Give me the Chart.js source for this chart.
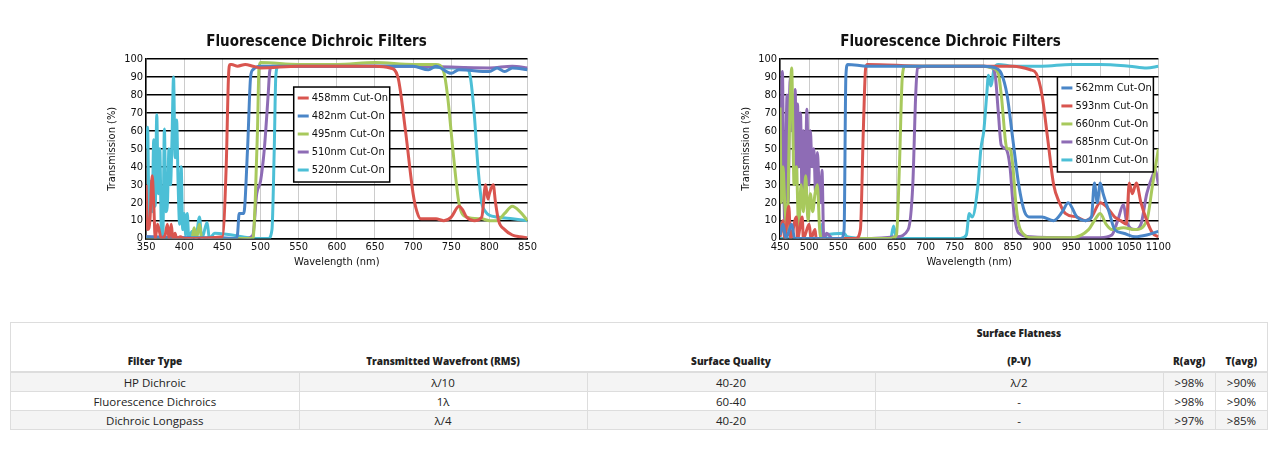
<!DOCTYPE html>
<html>
<head>
<meta charset="utf-8">
<script src="https://cdn.jsdelivr.net/npm/chart.js@4"></script>
<style>
body { margin:0; background:#fff; width:1281px; height:460px; position:relative; font-family:"Open Sans", sans-serif; }
.graf { position:absolute; top:31px; width:435px; height:238px; }
#graficoIzq { left:104px; }
#graficoDer { left:738px; }
table { position:absolute; left:10px; top:322px; width:1258px; border-collapse:collapse; font-size:11.5px; color:#222; border:1px solid #ddd; }
th { font-weight:800; font-size:10px; vertical-align:bottom; height:40px; padding:3px 4px; border-bottom:2px solid #ddd; }
td { text-align:center; height:18px; padding:0 4px; border:1px solid #ddd; }
tr.gris td { background:#f4f4f4; }
</style>
</head>
<body>
<div class="graf" id="graficoIzq"><canvas id="c1"></canvas></div>
<div class="graf" id="graficoDer"><canvas id="c2"></canvas></div>
<table>
<tr><th style="width:280px">Filter Type</th><th style="width:280px">Transmitted Wavefront (RMS)</th><th style="width:280px">Surface Quality</th><th style="width:280px">Surface Flatness<br><br>(P-V)</th><th>R(avg)</th><th>T(avg)</th></tr>
<tr class="gris"><td>HP Dichroic</td><td>λ/10</td><td>40-20</td><td>λ/2</td><td>&gt;98%</td><td>&gt;90%</td></tr>
<tr><td>Fluorescence Dichroics</td><td>1λ</td><td>60-40</td><td>-</td><td>&gt;98%</td><td>&gt;90%</td></tr>
<tr class="gris"><td>Dichroic Longpass</td><td>λ/4</td><td>40-20</td><td>-</td><td>&gt;97%</td><td>&gt;85%</td></tr>
</table>
<script>
const ROJO = '#d9554f', AZUL = '#4a86c8', VERDE = '#a8c95c', MORADO = '#8e6cb5', CIAN = '#4cbfd6';
const FUENTE = '"DejaVu Sans Condensed", "Liberation Sans Narrow", "DejaVu Sans", sans-serif';

// Grafico izquierdo
const x458 = [350,352,355,358,360,362,365,370,375,378,380,383,385,388,390,395,400,450,455,458,460,462,470,480,490,500,550,600,650,670,680,690,700,705,710,720,730,740,750,760,765,770,780,790,795,798,800,805,808,812,820,830,840,850];
const y458 = [30,5,10,35,20,0,8,0,2,8,0,8,0,3,0,1,0,1,40,90,97,97,96,97,96,95,96,96,96,95,90,60,25,15,11,11,11,10,12,18,16,12,10,12,30,22,25,30,20,10,5,2,1,0.5];
const x482 = [350,400,450,468,470,472,478,483,487,490,500,600,700,720,730,750,760,800,810,820,830,850];
const y482 = [1,0.5,0.5,0,3,14,14,50,90,94,96,96,96,94,96,92,94,93,95,93,95,94];
const x495 = [350,410,413,416,420,423,490,493,496,498,500,550,600,650,700,730,740,745,752,760,770,790,800,810,820,830,840,850];
const y495 = [0.5,0,6,0,8,0,0,20,60,95,98,97,97,98,97,97,93,80,50,20,12,11,10,10,14,18,15,10];
const x510 = [350,400,480,490,495,500,505,510,512,515,600,700,800,830,850];
const y510 = [1,0.5,0,2,25,32,50,80,93,96,96,96,95,96,95];
const x520 = [350,352,354,356,358,360,362,364,366,368,370,372,374,376,378,380,382,384,386,388,390,392,394,396,398,400,402,404,406,410,415,420,423,430,433,440,500,510,515,518,520,523,550,600,650,700,750,770,775,780,785,790,795,800,810,830,850];
const y520 = [50,62,10,32,15,55,18,69,25,50,5,2,61,15,20,50,30,56,90,45,66,30,8,40,5,14,2,14,0,4,0,12,0,9,0,3,0,0,5,50,90,96,96,96,96,96,95,95,90,70,40,20,15,13,12,11,10];

// Grafico derecho
const x562 = [450,455,460,470,475,555,560,563,566,600,700,800,820,830,840,850,860,870,880,900,920,935,945,960,975,985,990,995,1000,1005,1015,1025,1040,1060,1080,1100];
const y562 = [2,8,0,8,0,0,5,90,97,96,96,96,95,92,80,55,30,15,12,12,10,15,20,12,10,12,31,20,31,25,15,5,3,1,2,4];
const x593 = [450,455,458,465,468,478,480,488,490,500,503,510,512,580,588,593,597,600,700,800,850,880,890,900,910,920,930,940,960,975,985,1000,1010,1025,1035,1045,1050,1055,1062,1070,1080,1090,1100];
const y593 = [1,10,0,18,0,12,0,12,0,8,0,5,0,0,5,60,95,97,96,96,96,94,92,80,55,30,20,14,12,10,12,20,18,12,10,8,31,25,31,20,10,3,1];
const x660 = [450,452,455,458,462,466,470,472,474,478,482,486,490,494,498,502,506,510,514,518,522,550,640,650,655,660,665,700,800,815,825,830,840,845,850,855,860,870,880,950,980,990,1000,1010,1020,1040,1060,1080,1090,1100];
const y660 = [73,20,40,20,5,60,95,60,30,40,5,30,15,35,10,25,15,25,30,5,0,0,0,2,40,90,96,96,96,95,92,80,50,50,40,20,8,2,0.5,0.5,5,10,14,8,5,6,5,10,30,50];
const x685 = [450,452,454,456,458,460,462,464,466,468,470,472,474,476,478,480,482,485,488,490,493,496,499,502,505,508,511,514,517,520,522,525,530,540,600,650,670,678,683,686,700,800,815,820,825,830,838,845,850,855,860,880,950,1000,1020,1030,1040,1045,1060,1070,1080,1090,1095,1100];
const y685 = [27,60,93,40,10,50,80,20,75,90,60,80,50,83,30,75,40,70,20,60,25,72,30,60,40,50,25,48,30,20,38,0,3,0,0,1,5,30,80,95,96,96,95,90,70,52,50,40,20,8,3,1,0.5,0.5,2,10,19,10,5,8,25,35,38,30];
const x801 = [450,520,522,525,530,560,565,600,640,645,650,760,770,775,780,790,795,800,805,808,812,818,825,850,900,950,1000,1050,1080,1100];
const y801 = [0,0,8,0,2,3,1,0,0,7,0,0,2,14,12,30,50,60,80,91,85,95,97,96,96,97,97,96,95,96];

function serie(etiqueta, xs, ys, color) {
    return {
        label: etiqueta,
        data: xs.map((x, i) => ({ x: x, y: ys[i] })),
        borderColor: color,
        backgroundColor: color,
        borderWidth: 3,
        pointRadius: 0,
        tension: 0.2,
        cubicInterpolationMode: 'monotone',
        fill: false
    };
}

// leyenda con borde dentro del area del grafico
const leyendaCaja = {
    id: 'leyendaCaja',
    afterDraw(chart, args, opts) {
        const ctx = chart.ctx, a = chart.chartArea;
        const x0 = a.left + opts.dx * a.width, y0 = a.top + opts.dy * a.height;
        const alto = 18, ancho = 96;
        ctx.save();
        ctx.fillStyle = '#fff';
        ctx.fillRect(x0, y0, ancho, alto * chart.data.datasets.length + 5);
        ctx.strokeStyle = '#000';
        ctx.lineWidth = 1.5;
        ctx.strokeRect(x0, y0, ancho, alto * chart.data.datasets.length + 5);
        ctx.font = '11px ' + FUENTE;
        ctx.textBaseline = 'middle';
        chart.data.datasets.forEach((d, i) => {
            const y = y0 + 11 + i * alto;
            ctx.strokeStyle = d.borderColor;
            ctx.lineWidth = 3;
            ctx.beginPath();
            ctx.moveTo(x0 + 4, y);
            ctx.lineTo(x0 + 15, y);
            ctx.stroke();
            ctx.fillStyle = '#111';
            ctx.fillText(d.label, x0 + 18, y);
        });
        ctx.restore();
    }
};

function crearGrafico(id, series, xmin, xmax, dx, dy) {
    new Chart(document.getElementById(id), {
        type: 'line',
        data: { datasets: series },
        plugins: [leyendaCaja],
        options: {
            responsive: true,
            maintainAspectRatio: false,
            animation: false,
            layout: { padding: { right: 10 } },
            plugins: {
                legend: { display: false },
                tooltip: { enabled: false },
                leyendaCaja: { dx: dx, dy: dy },
                title: {
                    display: true,
                    text: 'Fluorescence Dichroic Filters',
                    color: '#111',
                    font: { family: FUENTE, size: 15, weight: 'bold' },
                    padding: { top: 2, bottom: 8 }
                }
            },
            scales: {
                x: {
                    type: 'linear', min: xmin, max: xmax,
                    ticks: { stepSize: 50, autoSkip: false, color: '#111', maxRotation: 0, padding: 2,
                        font: { family: FUENTE, size: 11 }, callback: v => String(v) },
                    grid: { color: '#ccc', lineWidth: 1, tickLength: 0 },
                    border: { color: '#000', width: 1.5 },
                    title: { display: true, text: 'Wavelength (nm)', color: '#111', padding: 0, font: { family: FUENTE, size: 11 } }
                },
                y: {
                    min: 0, max: 100,
                    ticks: { stepSize: 10, autoSkip: false, color: '#111', padding: 3, font: { family: FUENTE, size: 11 } },
                    grid: { color: '#000', lineWidth: 1.5, tickLength: 0 },
                    border: { color: '#000', width: 1.5 },
                    title: { display: true, text: 'Transmission (%)', color: '#111', padding: 2, font: { family: FUENTE, size: 11 } }
                }
            }
        }
    });
}

crearGrafico('c1', [
    serie('458mm Cut-On', x458, y458, ROJO),
    serie('482nm Cut-On', x482, y482, AZUL),
    serie('495nm Cut-On', x495, y495, VERDE),
    serie('510nm Cut-On', x510, y510, MORADO),
    serie('520nm Cut-On', x520, y520, CIAN)
], 350, 850, 0.387, 0.156);

crearGrafico('c2', [
    serie('562mm Cut-On', x562, y562, AZUL),
    serie('593nm Cut-On', x593, y593, ROJO),
    serie('660nm Cut-On', x660, y660, VERDE),
    serie('685nm Cut-On', x685, y685, MORADO),
    serie('801nm Cut-On', x801, y801, CIAN)
], 450, 1100, 0.733, 0.10);
</script>
</body>
</html>
